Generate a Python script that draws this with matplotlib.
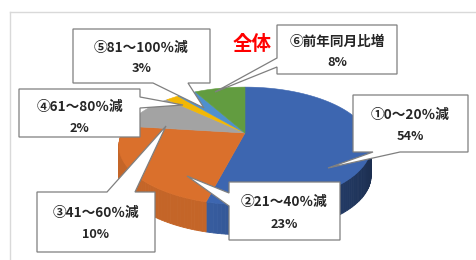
import numpy as np
import matplotlib
matplotlib.use('Agg')
import matplotlib.pyplot as plt
from matplotlib.patches import Polygon

# ---------------- data ----------------
categories = ['①0～20％減', '②21～40％減', '③41～60％減',
              '④61～80％減', '⑤81～100％減', '⑥前年同月比増']
values = [54, 23, 10, 2, 3, 8]
value_labels = ['54%', '23%', '10%', '2%', '3%', '8%']
title = '全体'

top_colors = ['#3D66B0', '#DA702C', '#A3A3A3', '#F2B705', '#4F90CE', '#629C40']

plt.rcParams['font.family'] = ['Noto Sans CJK JP', 'DejaVu Sans']

W, H = 477, 260
fig = plt.figure(figsize=(W / 100, H / 100), dpi=100)
ax = fig.add_axes([0, 0, 1, 1])
ax.set_xlim(0, W)
ax.set_ylim(H, 0)
ax.axis('off')

# outer chart frame (top and left edges visible)
ax.plot([10, W], [12, 12], color='#D9D9D9', lw=1.0, zorder=0)
ax.plot([10, 10], [12, H], color='#D9D9D9', lw=1.0, zorder=0)

# ---------------- 3D pie geometry ----------------
cx, cy = 245, 133        # apex (projected centre)
A, B, k = 123, 56, 0.22  # perspective ellipse parameters
depth = 30


def proj(theta_deg, dy=0.0):
    t = np.radians(theta_deg)
    d = 1 + k * np.sin(t)
    return cx + A * np.cos(t) / d, cy - B * np.sin(t) / d + dy


def shade(hexcol, f):
    c = np.array(matplotlib.colors.to_rgb(hexcol)) * f
    return np.clip(c, 0, 1)


total = float(sum(values))
angles = [90.0]
for v in values:
    angles.append(angles[-1] - 360.0 * v / total)

front_lo = -180 - np.degrees(np.arcsin(k))   # left silhouette
front_hi = -np.degrees(np.arcsin(k))         # right silhouette

# sides
for i, v in enumerate(values):
    a0, a1 = angles[i], angles[i + 1]
    hi = min(a0, front_hi)
    lo = max(a1, front_lo)
    if hi <= lo:
        continue
    steps = np.linspace(hi, lo, max(2, int((hi - lo) / 1.5) + 2))
    for s0, s1 in zip(steps[:-1], steps[1:]):
        m = 0.5 * (s0 + s1)
        f = min(0.9, 0.82 - 0.38 * np.cos(np.radians(m)))
        col = shade(top_colors[i], f)
        xs0, ys0 = proj(s0)
        xs1, ys1 = proj(s1)
        poly = [(xs0, ys0), (xs1, ys1), (xs1, ys1 + depth), (xs0, ys0 + depth)]
        ax.add_patch(Polygon(poly, closed=True, facecolor=col, edgecolor=col,
                             lw=0.6, zorder=2))

# top faces
for i, v in enumerate(values):
    a0, a1 = angles[i], angles[i + 1]
    ts = np.linspace(a0, a1, max(3, int(abs(a0 - a1)) + 2))
    xs, ys = proj(ts)
    pts = [(cx, cy)] + list(zip(xs, ys))
    ax.add_patch(Polygon(pts, closed=True, facecolor=top_colors[i],
                         edgecolor=top_colors[i], lw=0.4, zorder=3))

# ---------------- callouts ----------------
# box (x0, y0, x1, y1), wedge side, wedge base (b0, b1), tip, text rows y
callouts = [
    ((353, 95, 468, 152), 'bottom', (373, 400), (328, 168), (115, 136)),
    ((229, 182, 340, 240), 'left', (193, 206), (187, 176), (202, 225)),
    ((37, 192, 155, 252), 'top', (107, 135), (166, 126), (213, 235)),
    ((19, 89, 140, 137), 'right', (97, 108), (183, 105), (107, 128)),
    ((73, 29, 210, 83), 'bottom', (153, 188), (204, 108), (48, 69)),
    ((277, 25, 397, 74), 'left', (58, 67), (215, 92), (42, 63)),
]


def callout_path(box, side, base, tip):
    x0, y0, x1, y1 = box
    b0, b1 = base
    pts = [(x0, y0)]
    if side == 'top':
        pts += [(b0, y0), tip, (b1, y0)]
    pts += [(x1, y0)]
    if side == 'right':
        pts += [(x1, b0), tip, (x1, b1)]
    pts += [(x1, y1)]
    if side == 'bottom':
        pts += [(b1, y1), tip, (b0, y1)]
    pts += [(x0, y1)]
    if side == 'left':
        pts += [(x0, b1), tip, (x0, b0)]
    return pts


for i, (box, side, base, tip, rows) in enumerate(callouts):
    ax.add_patch(Polygon(callout_path(box, side, base, tip), closed=True,
                         facecolor='white', edgecolor='#7F7F7F', lw=0.9,
                         zorder=5, joinstyle='miter'))
    xm = 0.5 * (box[0] + box[2])
    ax.text(xm, rows[0], categories[i], ha='center', va='center',
            fontsize=9.8, fontweight='bold', color='#262626', zorder=6)
    ax.text(xm, rows[1], value_labels[i], ha='center', va='center',
            fontsize=9.2, fontweight='bold', color='#262626', zorder=6)

ax.text(252, 44, title, ha='center', va='center', fontsize=14,
        fontweight='bold', color='#FF0000', zorder=6)

fig.savefig('out.png', dpi=100)
